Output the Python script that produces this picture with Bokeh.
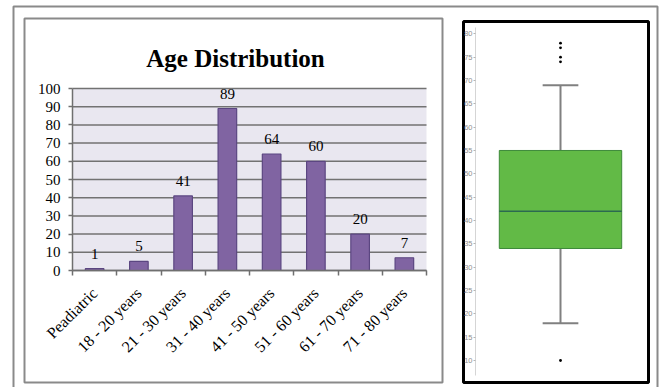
import math
from bokeh.plotting import figure
from bokeh.models import (ColumnDataSource, FixedTicker, LabelSet, Range1d, LinearAxis)
from bokeh.embed import file_html
from bokeh.resources import INLINE

# ---------------- data ----------------
title_text = "Age Distribution"
categories = ["Peadiatric", "18 - 20 years", "21 - 30 years", "31 - 40 years",
              "41 - 50 years", "51 - 60 years", "61 - 70 years", "71 - 80 years"]
counts = [1, 5, 41, 89, 64, 60, 20, 7]
count_ticks = [0, 10, 20, 30, 40, 50, 60, 70, 80, 90, 100]

age_q1 = 34
age_median = 42
age_q3 = 55
age_whisker_low = 18
age_whisker_high = 69
age_outliers = [78, 77, 75, 74, 10]
age_ticks = [10, 15, 20, 25, 30, 35, 40, 45, 50, 55, 60, 65, 70, 75, 80]

# ---------------- layout (pixels) ----------------
W, H = 659, 387
SERIF = "Liberation Serif"


def span_x(v0, px0, v1, px1):
    b = (px1 - px0) / (v1 - v0)
    return Range1d(v0 - px0 / b, v0 + (W - px0) / b)


def span_y(v0, py0, v1, py1):
    b = (py1 - py0) / (v1 - v0)
    return Range1d(v0 + (H - py0) / b, v0 + (0 - py0) / b)


n = len(categories)

p = figure(width=W, height=H, x_range=Range1d(0, W), y_range=Range1d(H, 0),
           x_axis_location=None, y_axis_location=None,
           output_backend="svg", toolbar_location=None,
           min_border=0, outline_line_color=None,
           background_fill_color="white", border_fill_color="white")
p.grid.visible = False

# bar chart coordinate system: 0..n across 72..426 px, 0..100 across 270..88 px
p.extra_x_ranges = {"bx": span_x(0, 72, n, 426), "kx": span_x(0, 475, 1, 645)}
p.extra_y_ranges = {"by": span_y(0, 270, 100, 88), "ky": span_y(10, 360, 80, 33.3)}

# frames
p.quad(left=[13], right=[657], top=[6], bottom=[H + 10],
       fill_color=None, line_color="#8a8a8a", line_width=2)
p.quad(left=[24], right=[442], top=[18], bottom=[382],
       fill_color=None, line_color="#8a8a8a", line_width=2)

# title
p.text(x=[235], y=[58], text=[title_text], text_align="center", text_baseline="alphabetic",
       text_font=SERIF, text_font_size="25px", text_font_style="bold", text_color="black")

# ---------------- bar chart ----------------
centers = [i + 0.5 for i in range(n)]
bounds = [float(i) for i in range(n + 1)]

p.quad(left=[0], right=[n], bottom=[0], top=[count_ticks[-1]],
       x_range_name="bx", y_range_name="by",
       fill_color="#E9E7F0", line_color=None)
p.segment(x0=0, x1=n, y0=count_ticks, y1=count_ticks,
          x_range_name="bx", y_range_name="by",
          line_color="#727272", line_width=1.5)

src = ColumnDataSource(dict(x=centers, top=counts, label=[str(c) for c in counts]))
p.vbar(x="x", top="top", bottom=0, width=0.42, source=src,
       x_range_name="bx", y_range_name="by",
       fill_color="#8064A2", line_color="#5B4681", line_width=1.2)

labels = LabelSet(x="x", y="top", text="label", source=src, y_offset=10,
                  x_range_name="bx", y_range_name="by",
                  text_align="center", text_baseline="alphabetic",
                  text_font=SERIF, text_font_size="15px", text_color="black")
p.add_layout(labels)

ya = LinearAxis(x_range_name="bx", y_range_name="by", fixed_location=0,
                bounds=(0, 100), ticker=FixedTicker(ticks=count_ticks))
ya.major_label_text_font = SERIF
ya.major_label_text_font_size = "15px"
ya.major_label_text_color = "black"
ya.major_label_standoff = 8
ya.major_tick_out = 4
ya.major_tick_in = 0
ya.major_tick_line_color = "#6f6f6f"
ya.major_tick_line_width = 1.5
ya.minor_tick_line_color = None
ya.axis_line_color = "#6f6f6f"
ya.axis_line_width = 1.5
p.add_layout(ya, "left")

xa = LinearAxis(x_range_name="bx", y_range_name="by", fixed_location=0,
                bounds=(0, n), ticker=FixedTicker(ticks=centers, minor_ticks=bounds))
xa.major_label_overrides = {c: lab for c, lab in zip(centers, categories)}
xa.major_label_orientation = math.pi / 4
xa.major_label_text_font = SERIF
xa.major_label_text_font_size = "16px"
xa.major_label_text_color = "black"
xa.major_label_standoff = 15
xa.major_tick_out = 0
xa.major_tick_in = 0
xa.minor_tick_out = 5
xa.minor_tick_in = 0
xa.minor_tick_line_color = "#6f6f6f"
xa.minor_tick_line_width = 1.5
xa.axis_line_color = "#6f6f6f"
xa.axis_line_width = 1.5
p.add_layout(xa, "below")

# ---------------- box plot ----------------
cx = 0.5
cap = 0.21
half = 0.36
p.segment(x0=[cx, cx], y0=[age_q3, age_q1], x1=[cx, cx], y1=[age_whisker_high, age_whisker_low],
          x_range_name="kx", y_range_name="ky", line_color="#808080", line_width=2)
p.segment(x0=[cx - cap / 2, cx - cap / 2], y0=[age_whisker_high, age_whisker_low],
          x1=[cx + cap / 2, cx + cap / 2], y1=[age_whisker_high, age_whisker_low],
          x_range_name="kx", y_range_name="ky", line_color="#808080", line_width=2)
p.vbar(x=[cx], width=2 * half, bottom=[age_q1], top=[age_q3],
       x_range_name="kx", y_range_name="ky",
       fill_color="#62BA46", line_color="#3E8A3A", line_width=1)
p.segment(x0=[cx - half], y0=[age_median], x1=[cx + half], y1=[age_median],
          x_range_name="kx", y_range_name="ky", line_color="#2B6A50", line_width=1.5)
p.scatter(x=[cx] * len(age_outliers), y=age_outliers, size=2.8,
          x_range_name="kx", y_range_name="ky",
          fill_color="black", line_color=None)

ka = LinearAxis(x_range_name="kx", y_range_name="ky", fixed_location=0,
                bounds=(6.8, 81.3), ticker=FixedTicker(ticks=age_ticks))
ka.major_label_text_font = "Liberation Sans"
ka.major_label_text_font_size = "7.5px"
ka.major_label_text_color = "#8f8f8f"
ka.major_label_standoff = 1
ka.major_tick_out = 2
ka.major_tick_in = 0
ka.major_tick_line_color = "#b5b5b5"
ka.minor_tick_line_color = None
ka.axis_line_color = "#d5d5d5"
p.add_layout(ka, "left")

p.quad(left=[463], right=[648], top=[21], bottom=[382],
       fill_color=None, line_color="black", line_width=3)

open("out.html", "w").write(file_html(p, INLINE))
